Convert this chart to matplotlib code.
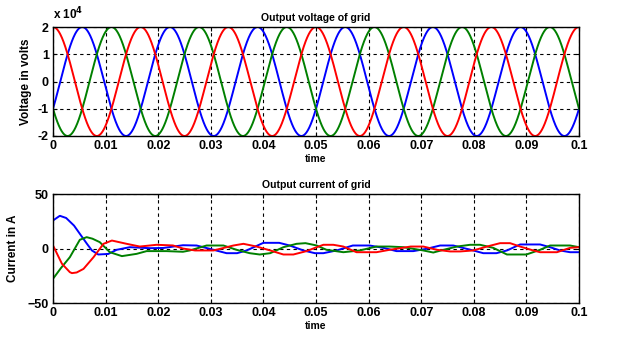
import numpy as np
import matplotlib
matplotlib.use("Agg")
import matplotlib.pyplot as plt
from matplotlib.ticker import FuncFormatter

plt.rcParams['font.family'] = ['Liberation Sans', 'DejaVu Sans']
plt.rcParams['font.weight'] = 'bold'

# grid voltage: 2x10^4 V peak, 60 Hz, three phases
v_peak = 2e4
v_freq = 60.0
v_phase_deg = {'r': 0, 'b': -120, 'g': 120}
t_end = 0.1

# output current samples (time s, current A)
ib_t = [0, 0.0013, 0.0025, 0.004, 0.0051, 0.0065, 0.0074, 0.0086, 0.0105, 0.0121,
        0.0146, 0.0184, 0.021, 0.0247, 0.0273, 0.0298, 0.033, 0.035, 0.0368, 0.040,
        0.043, 0.045, 0.0476, 0.0498, 0.0514, 0.0539, 0.057, 0.0602, 0.0628, 0.0653,
        0.0685, 0.071, 0.0736, 0.0761, 0.0799, 0.0818, 0.0843, 0.0863, 0.0888, 0.0926,
        0.0945, 0.0964, 0.0983, 0.1]
ib_v = [25.7, 30, 28, 21, 13.5, 4, -1.8, -5.5, -5, -1.2,
        1.2, 0.3, 0.5, 3, 2.75, -0.3, -4.3, -4.3, -1.8, 5.2,
        5.2, 2.75, -1.8, -4.3, -4.3, -1.8, 2.75, 2.75, 0.6, -2.4,
        -2.4, -0.3, 2.75, 2.75, -1.8, -4.3, -4.3, -1.8, 3.7, 3.7,
        1.2, -1.8, -3.4, -3.4]

ir_t = [0, 0.0017, 0.0032, 0.0036, 0.0045, 0.0058, 0.0077, 0.0096, 0.0112, 0.014,
        0.0165, 0.0197, 0.0228, 0.0247, 0.027, 0.0305, 0.0343, 0.0362, 0.0387, 0.0413,
        0.0438, 0.0457, 0.0482, 0.0498, 0.0514, 0.0533, 0.0552, 0.0577, 0.0615, 0.064,
        0.068, 0.0704, 0.073, 0.0755, 0.0774, 0.0799, 0.0825, 0.085, 0.0869, 0.0888,
        0.0913, 0.0926, 0.0958, 0.0983, 0.1]
ir_v = [2.8, -14, -21.7, -22.6, -22, -18.7, -8, 4.3, 7.3, 4.3,
        1.8, 3.4, 2.8, 0, -1.8, -1.8, 2.75, 4.3, 1.8, -1.8,
        -5.5, -5.5, -2.4, 0.6, 3.4, 3.4, 1.8, -3.4, -3.4, -1.2,
        1.8, 1.8, -1.2, -2.7, -2.7, -1.8, 1.8, 4.9, 4.9, 1.8,
        -1.8, -3.4, -3.4, 0.6, 1.2]

ig_t = [0, 0.0015, 0.0032, 0.0051, 0.0064, 0.0075, 0.0089, 0.0108, 0.0131, 0.0159,
        0.0178, 0.0216, 0.0247, 0.026, 0.0292, 0.0324, 0.0349, 0.0374, 0.0393, 0.0413,
        0.0438, 0.0463, 0.0480, 0.0501, 0.052, 0.0552, 0.0583, 0.0615, 0.064, 0.0666,
        0.0704, 0.0723, 0.074, 0.0768, 0.0793, 0.0812, 0.0837, 0.0863, 0.09, 0.0926,
        0.0945, 0.0983, 0.1]
ig_v = [-27.8, -18, -8, 8, 10.4, 9, 5.8, -3.4, -7, -4.9,
        -2.4, -2.4, -3, -1.8, 2.75, 2.75, -1.2, -4.3, -5.5, -4.3,
        1.2, 4.3, 4.9, 2.8, -1.2, -3.4, -1.8, 1.8, 1.8, 1.2,
        -1.8, -3.7, -1.5, 1.8, 3.4, 3.4, 0.6, -5.5, -5.5, -1.2,
        2.75, 2.75, 1.2]

colors = {'b': '#0000ff', 'g': '#008000', 'r': '#ff0000'}

fig = plt.figure(figsize=(6.28, 3.52), dpi=100)
ax1 = fig.add_axes([53 / 628, 1 - 136 / 352, 526 / 628, 109 / 352])
ax2 = fig.add_axes([53 / 628, 1 - 303 / 352, 526 / 628, 109 / 352])

t = np.linspace(0, t_end, 2000)
for key in ['b', 'g', 'r']:
    w = 2 * np.pi * v_freq * t + np.deg2rad(v_phase_deg[key])
    ax1.plot(t, v_peak * np.cos(w), color=colors[key], lw=1.4)

ax2.plot(ib_t, ib_v, color=colors['b'], lw=1.4)
ax2.plot(ig_t, ig_v, color=colors['g'], lw=1.4)
ax2.plot(ir_t, ir_v, color=colors['r'], lw=1.4)

xticks = np.round(np.arange(0, 0.1001, 0.01), 2)
xlabels = ['0'] + ['%g' % x for x in xticks[1:]]

for ax in (ax1, ax2):
    ax.set_xlim(0, 0.1)
    ax.set_xticks(xticks)
    ax.set_xticklabels(xlabels)
    ax.grid(True, color='black', linestyle=(0, (3, 3)), lw=0.8)
    ax.tick_params(direction='in', length=3, labelsize=9, pad=3, top=True, right=True)
    for s in ax.spines.values():
        s.set_linewidth(1.0)
    ax.set_xlabel('time', fontsize=7.5, fontweight='bold', labelpad=1)

ax1.set_ylim(-2e4, 2e4)
ax1.set_yticks([-2e4, -1e4, 0, 1e4, 2e4])
ax1.yaxis.set_major_formatter(FuncFormatter(lambda v, p: '%d' % round(v / 1e4)))
ax1.set_title('Output voltage of grid', fontsize=7.6, fontweight='bold', pad=4)
ax1.set_ylabel('Voltage in volts', fontsize=8.5, fontweight='bold', labelpad=4)
ax1.text(0, 1.04, r'x 10$^{\mathbf{4}}$', transform=ax1.transAxes, fontsize=8.5,
         fontweight='bold', ha='left', va='bottom')

ax2.set_ylim(-50, 50)
ax2.set_yticks([-50, 0, 50])
ax2.set_title('Output current of grid', fontsize=7.6, fontweight='bold', pad=4)
ax2.set_ylabel('Current in A', fontsize=8.5, fontweight='bold', labelpad=6)

fig.savefig('out.png', dpi=100)
